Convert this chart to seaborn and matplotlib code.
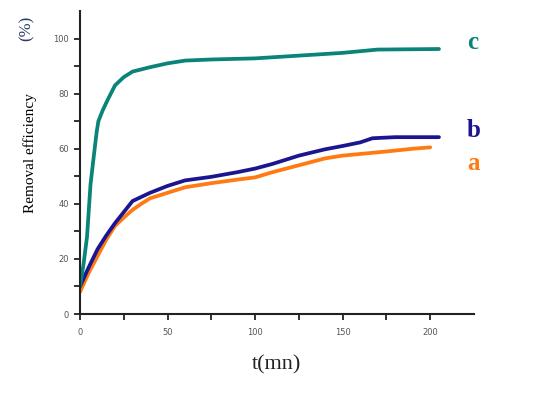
import matplotlib
matplotlib.use("Agg")
import matplotlib.pyplot as plt
import seaborn as sns
import pandas as pd

# Curve c
t_c = [0, 2, 4, 6, 8, 9.5, 10.5, 13, 16, 20, 25, 30, 35, 40, 50, 60, 75, 100, 125, 150, 170, 205]
v_c = [10, 18, 28, 47, 58, 66, 70, 74, 78, 83, 86, 88, 88.8, 89.6, 91, 92, 92.4, 92.8, 93.8, 94.8, 96, 96.2]
# Curve b
t_b = [0, 5, 10, 15, 20, 25, 30, 35, 40, 50, 60, 75, 90, 100, 110, 125, 140, 150, 160, 167, 180, 205]
v_b = [10, 17, 23.5, 28.5, 33, 37, 41, 42.5, 44, 46.5, 48.5, 49.8, 51.5, 52.8, 54.5, 57.5, 59.8, 61, 62.3, 63.8, 64.2, 64.2]
# Curve a
t_a = [0, 5, 10, 15, 20, 25, 30, 35, 40, 50, 60, 75, 90, 100, 110, 125, 140, 150, 175, 190, 200]
v_a = [8, 15, 21, 27, 32, 35, 37.8, 40, 42, 44, 46, 47.5, 48.8, 49.6, 51.5, 54, 56.5, 57.5, 59, 60, 60.5]

series_names = ["a", "b", "c"]
colors = {"a": "#ff7a12", "b": "#1c1590", "c": "#0a8378"}
label_pos = {"a": (221, 54.5), "b": (221, 66.5), "c": (221, 98.5)}

df = pd.concat([
    pd.DataFrame({"t": t_a, "v": v_a, "s": "a"}),
    pd.DataFrame({"t": t_b, "v": v_b, "s": "b"}),
    pd.DataFrame({"t": t_c, "v": v_c, "s": "c"}),
])

sns.set_style("ticks")
fig = plt.figure(figsize=(5.41, 3.98), dpi=100)
ax = fig.add_axes([80 / 541, 1 - 314 / 398, (474 - 80) / 541, (314 - 11) / 398])

sns.lineplot(data=df, x="t", y="v", hue="s", palette=colors, linewidth=2.7,
             legend=False, ax=ax, sort=False)

ax.set_xlim(0, 225)
ax.set_ylim(0, 110)
ax.set_xticks([0, 50, 100, 150, 200])
ax.set_xticks([25, 75, 125, 175], minor=True)
ax.set_yticks([0, 20, 40, 60, 80, 100])
ax.set_yticks([10, 30, 50, 70, 90], minor=True)
ax.tick_params(axis="both", which="both", direction="out", labelsize=6,
               labelcolor="#555555", width=1.3, color="#222222")
ax.tick_params(axis="x", which="major", length=4, pad=6)
ax.tick_params(axis="y", which="major", length=4, pad=4)
ax.tick_params(axis="both", which="minor", length=4)
for sp in ["top", "right"]:
    ax.spines[sp].set_visible(False)
for sp in ["left", "bottom"]:
    ax.spines[sp].set_linewidth(1.5)
    ax.spines[sp].set_color("#222222")

ax.set_xlabel("t(mn)", family="Liberation Serif", fontsize=16, labelpad=13,
              color="#222222")
ax.set_ylabel("")
fig.text(30 / 541, 1 - 153 / 398, "Removal efficiency", family="Liberation Serif",
         fontsize=11, rotation=90, ha="center", va="center", color="black")
fig.text(27 / 541, 1 - 28 / 398, "(%)", family="Liberation Serif",
         fontsize=12, rotation=90, ha="center", va="center", color="#2a3a66")

for s in series_names:
    x, y = label_pos[s]
    ax.text(x, y, s, color=colors[s], family="Liberation Serif", fontweight="bold",
            fontsize=18, ha="left", va="center", clip_on=False)

fig.savefig("out.png", dpi=100, facecolor="white")
